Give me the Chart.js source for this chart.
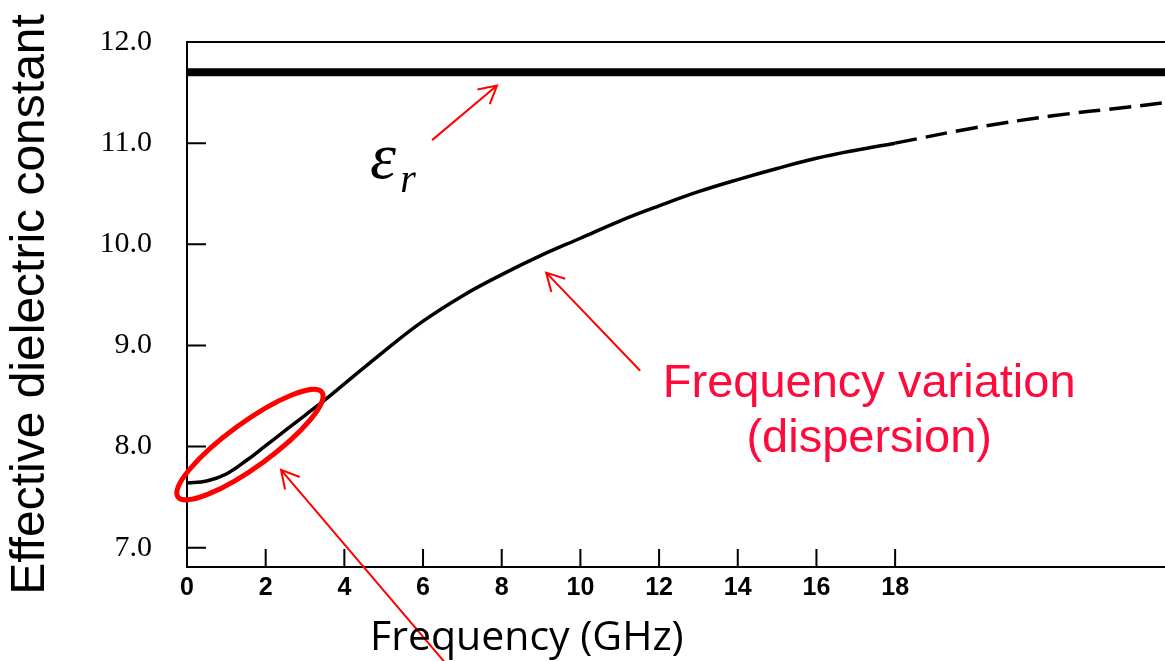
<!DOCTYPE html>
<html>
<head>
<meta charset="utf-8">
<script src="https://cdn.jsdelivr.net/npm/chart.js@4.4.0/dist/chart.umd.min.js"></script>
<style>
  html, body { margin: 0; padding: 0; background: #fff; }
  canvas { display: block; }
</style>
</head>
<body>
<canvas id="grafica" width="1165" height="661"></canvas>
<script>
// measured curve (GHz -> effective dielectric constant)
const freqSolid = [0, 0.5, 1, 1.5, 2, 2.5, 3, 3.5, 4, 5, 6, 7, 8, 9, 10, 11, 12, 13, 14, 15, 16, 17, 18];
const epsSolid = [7.64, 7.66, 7.73, 7.86, 8.01, 8.16, 8.31, 8.46, 8.62, 8.94, 9.24, 9.49, 9.70, 9.89, 10.06, 10.23, 10.38, 10.52, 10.64, 10.75, 10.85, 10.93, 11.00];
// extrapolated part (dashed)
const freqDashed = [18, 20, 22, 24, 24.86];
const epsDashed = [11.00, 11.15, 11.27, 11.36, 11.40];
// substrate permittivity
const freqEr = [0, 24.86];
const epsEr = [11.7, 11.7];

const xTicks = [0, 2, 4, 6, 8, 10, 12, 14, 16, 18];
const yTicks = [7, 8, 9, 10, 11, 12];

const pts = (xs, ys) => xs.map((v, i) => ({ x: v, y: ys[i] }));

const RED = '#ff0000';
const PINK = '#ff0a3c';

function arrow(ctx, x0, y0, x1, y1) {
    const ang = Math.atan2(y1 - y0, x1 - x0);
    const L = 20, A = 0.5;
    ctx.beginPath();
    ctx.moveTo(x0, y0);
    ctx.lineTo(x1, y1);
    ctx.moveTo(x1 - L * Math.cos(ang - A), y1 - L * Math.sin(ang - A));
    ctx.lineTo(x1, y1);
    ctx.lineTo(x1 - L * Math.cos(ang + A), y1 - L * Math.sin(ang + A));
    ctx.stroke();
}

const extras = {
    id: 'extras',
    afterDraw(chart) {
        const { ctx, chartArea: a, scales: { x, y } } = chart;
        const X = v => x.getPixelForValue(v);
        const Y = v => y.getPixelForValue(v);
        ctx.save();

        // top frame + inward ticks
        ctx.strokeStyle = '#000';
        ctx.lineWidth = 2;
        ctx.beginPath();
        ctx.moveTo(a.left, a.top);
        ctx.lineTo(a.right, a.top);
        yTicks.forEach(v => { ctx.moveTo(a.left, Y(v)); ctx.lineTo(a.left + 19, Y(v)); });
        xTicks.slice(1).forEach(v => { ctx.moveTo(X(v), a.bottom); ctx.lineTo(X(v), a.bottom - 18); });
        ctx.stroke();

        // red ellipse round the low frequency part
        ctx.strokeStyle = RED;
        ctx.lineWidth = 5;
        ctx.beginPath();
        ctx.ellipse(X(1.6), Y(8.02), 89, 22, -36 * Math.PI / 180, 0, Math.PI * 2);
        ctx.stroke();

        // arrows
        ctx.lineWidth = 2;
        arrow(ctx, X(6.23), Y(11.03), X(7.88), Y(11.57));
        arrow(ctx, X(11.52), Y(8.75), X(9.13), Y(9.72));
        arrow(ctx, X(6.81), Y(5.75), X(2.39), Y(7.77));

        // epsilon_r label
        ctx.fillStyle = '#000';
        ctx.textAlign = 'left';
        ctx.textBaseline = 'alphabetic';
        ctx.font = 'italic 66px "Liberation Serif"';
        ctx.fillText('\u03b5', X(4.65), Y(10.66));
        ctx.font = 'italic 40px "Liberation Serif"';
        ctx.fillText('r', X(5.42), Y(10.52));

        // dispersion note
        ctx.fillStyle = PINK;
        ctx.textAlign = 'center';
        ctx.font = '47px "Liberation Sans"';
        ctx.fillText('Frequency variation', X(17.34), Y(8.49));
        ctx.fillText('(dispersion)', X(17.34), Y(7.95));

        // x axis title
        ctx.fillStyle = '#000';
        ctx.font = '41px "Open Sans"';
        ctx.fillText('Frequency (GHz)', X(8.64), 650);

        ctx.restore();
    }
};

const grafica = new Chart(document.getElementById('grafica').getContext('2d'), {
    type: 'line',
    data: {
        datasets: [
            {
                data: pts(freqEr, epsEr),
                borderColor: '#000',
                borderWidth: 8,
                pointRadius: 0
            },
            {
                data: pts(freqSolid, epsSolid),
                borderColor: '#000',
                borderWidth: 3.5,
                pointRadius: 0,
                tension: 0.4
            },
            {
                data: pts(freqDashed, epsDashed),
                borderColor: '#000',
                borderWidth: 3.5,
                borderDash: [22, 9],
                pointRadius: 0,
                tension: 0.4
            }
        ]
    },
    options: {
        responsive: false,
        animation: false,
        events: [],
        layout: { padding: { top: 42, right: 0, left: 0, bottom: 0 } },
        plugins: { legend: { display: false }, tooltip: { enabled: false } },
        scales: {
            x: {
                type: 'linear',
                min: 0,
                max: 24.86,
                afterBuildTicks: s => { s.ticks = xTicks.map(v => ({ value: v })); },
                afterFit: s => { s.height = 94; s.paddingRight = 0; s.paddingLeft = 0; },
                grid: { display: false, drawTicks: false },
                border: { display: true, color: '#000', width: 2 },
                ticks: {
                    color: '#000',
                    padding: 6,
                    maxRotation: 0,
                    font: { family: '"Liberation Sans Narrow", "Liberation Sans"', weight: 'bold', size: 25 }
                }
            },
            y: {
                type: 'linear',
                min: 6.81,
                max: 12,
                afterBuildTicks: s => { s.ticks = yTicks.map(v => ({ value: v })); },
                afterFit: s => { s.width = 187; s.paddingTop = 0; s.paddingBottom = 0; },
                grid: { display: false, drawTicks: false },
                border: { display: true, color: '#000', width: 2 },
                ticks: {
                    color: '#000',
                    padding: 35,
                    callback: v => v.toFixed(1),
                    font: { family: '"Liberation Serif"', size: 30 }
                },
                title: {
                    display: true,
                    text: 'Effective dielectric constant',
                    color: '#000',
                    padding: { top: 2, bottom: 0 },
                    font: { family: '"Liberation Sans"', size: 48 }
                }
            }
        }
    },
    plugins: [extras]
});
</script>
</body>
</html>
